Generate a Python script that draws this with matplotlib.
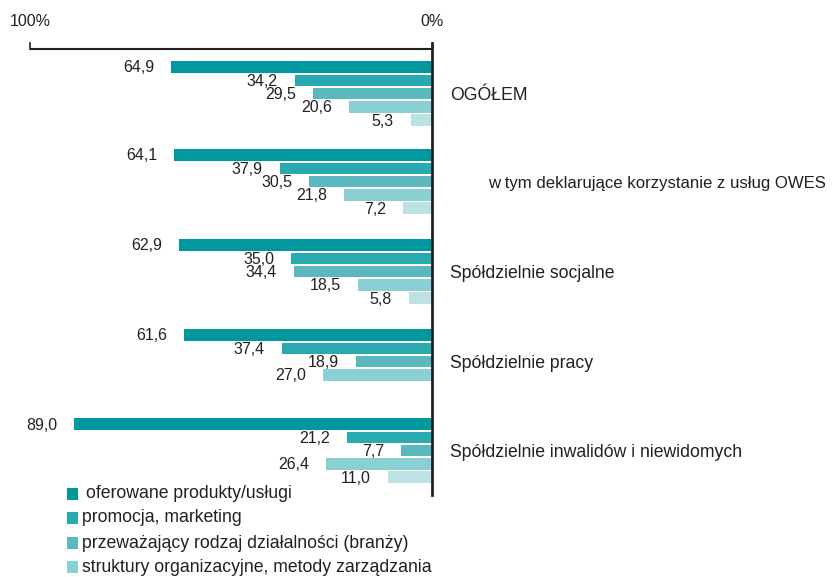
import matplotlib.pyplot as plt
from matplotlib.patches import Rectangle

plt.rcParams['font.family'] = ['Liberation Sans Narrow', 'Liberation Sans', 'DejaVu Sans']

groups = ['OGÓŁEM',
          'w tym deklarujące korzystanie z usług OWES',
          'Spółdzielnie socjalne',
          'Spółdzielnie pracy',
          'Spółdzielnie inwalidów i niewidomych']
series = ['oferowane produkty/usługi',
          'promocja, marketing',
          'przeważający rodzaj działalności (branży)',
          'struktury organizacyjne, metody zarządzania',
          'inne']
values = [
    [64.9, 34.2, 29.5, 20.6, 5.3],
    [64.1, 37.9, 30.5, 21.8, 7.2],
    [62.9, 35.0, 34.4, 18.5, 5.8],
    [61.6, 37.4, 18.9, 27.0, None],
    [89.0, 21.2, 7.7, 26.4, 11.0],
]
colors = ['#00979d', '#29a9b0', '#5ab8be', '#8acfd3', '#bde2e4']
txt = '#231f20'

fig = plt.figure(figsize=(8.34, 5.77), dpi=100)
ax = fig.add_axes([0, 0, 1, 1])
# 0% at x=432 px, 100% at x=30 px
ax.set_xlim(432 / 4.02, -(834 - 432) / 4.02)
ax.set_ylim(577, 0)
ax.axis('off')

group_y0 = [67, 155, 245, 335, 424]
step = 13.3
for g, vals in enumerate(values):
    for i, v in enumerate(vals):
        if v is None:
            continue
        y = group_y0[g] + i * step
        ax.barh(y, v, height=11.5, color=colors[i], left=0)
        ax.text(v + 4.2, y + 1, f'{v:.1f}'.replace('.', ','), ha='right', va='center',
                fontsize=11.5, color=txt)
    lx = -4.5 if g != 1 else -13.9
    ax.text(lx, group_y0[g] + 2 * step + 1.5, groups[g], ha='left', va='center',
            fontsize=12.7 if g != 1 else 12.1, color=txt)

# top scale
ax.plot([0, 100], [49, 49], color=txt, lw=1.5, solid_capstyle='butt')
ax.plot([100, 100], [43, 49], color=txt, lw=1.2)
ax.plot([0, 0], [43, 495], color=txt, lw=2)
ax.text(100, 22, '100%', ha='center', va='center', fontsize=11.5, color=txt)
ax.text(0, 22, '0%', ha='center', va='center', fontsize=11.5, color=txt)

# legend (pixel coordinates)
lg = fig.add_axes([0, 0, 1, 1])
lg.set_xlim(0, 834)
lg.set_ylim(577, 0)
lg.axis('off')
leg_y = [494, 518, 543, 567]
for i in range(4):
    lg.add_patch(Rectangle((67, leg_y[i] - 6), 11.5, 11.5, color=colors[i], lw=0))
    lg.text(86 if i == 0 else 82, leg_y[i], series[i], ha='left', va='center',
            fontsize=12.7, color=txt)

fig.savefig('out.png', dpi=100)
